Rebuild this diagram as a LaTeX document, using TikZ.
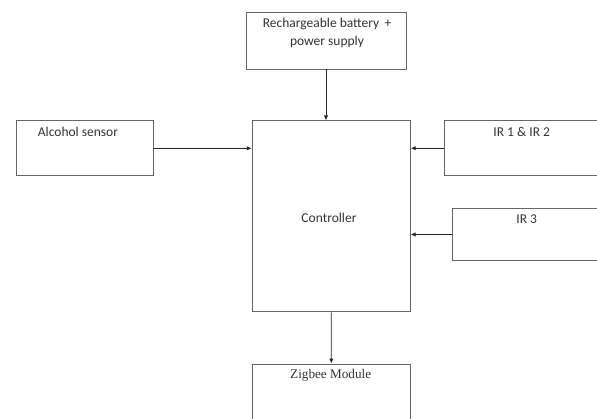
\documentclass[tikz,border=0pt]{standalone}
\usepackage{fontspec}
\newfontfamily\calfont{Carlito}
\newfontfamily\serfont{Liberation Serif}
\usetikzlibrary{positioning}
\usetikzlibrary{arrows.meta}

\begin{document}
\begin{tikzpicture}[x=1pt, y=-1pt,
  every node/.style={font=\calfont\fontsize{13.5}{18}\selectfont, text=black!80},
  block/.style={draw=black!60, line width=0.9pt, inner sep=0pt},
  txt/.style={inner sep=0pt, align=center},
  arrow/.style={draw=black!85, line width=0.9pt, -{Latex[length=5pt,width=4.5pt]}}]

\useasboundingbox (0,0) rectangle (597,419);
\clip (0,0) rectangle (597,419);

% blocks
\node[block, minimum width=160pt, minimum height=57pt]   (batt)    at (326,40.5)  {};
\node[block, minimum width=137pt, minimum height=55pt]   (alcohol) at (84.7,148.3) {};
\node[block, minimum width=158pt, minimum height=191pt]  (ctrl)    at (331.2,216.4) {};
\node[block, minimum width=196pt, minimum height=55pt]   (irab)    at (542,148.2)  {};
\node[block, minimum width=188pt, minimum height=52.4pt] (irc)     at (546.4,234.5) {};
\node[block, minimum width=158pt, minimum height=76pt]   (zigbee)  at (331.3,402)  {};

% labels
\node[txt] (batttext)    at (327,33)      {Rechargeable battery \,+\\power supply};
\node[txt] (alcoholtext) at (78,131.7)    {Alcohol sensor};
\node[txt] (ctrltext)    at (329,218)     {Controller};
\node[txt] (irabtext)    at (521.7,131.7) {IR 1 \& IR 2};
\node[txt] (irctext)     at (526.7,219.3) {IR 3};
\node[txt, font=\serfont\fontsize{13.2}{15}\selectfont] (zigbeetext) at (330.7,375) {Zigbee Module};

% arrows
\draw[arrow] (batt.south) -- (batt.south |- ctrl.north);
\draw[arrow] (alcohol.east) -- (alcohol.east -| ctrl.west);
\draw[arrow] (irab.west) -- (irab.west -| ctrl.east);
\draw[arrow] (irc.west) -- (irc.west -| ctrl.east);
\draw[arrow] (ctrl.south) -- (zigbee.north);
\end{tikzpicture}
\end{document}
